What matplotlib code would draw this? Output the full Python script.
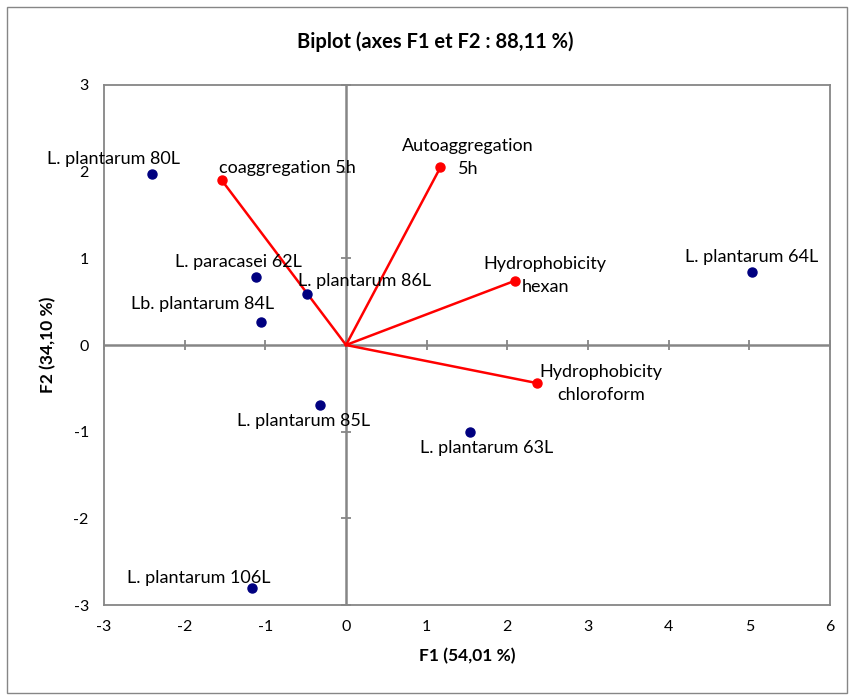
import matplotlib
matplotlib.use('Agg')
import matplotlib.pyplot as plt
from matplotlib.patches import Rectangle

# observations (strains)
obs_names = ['L. plantarum 80L', 'L. paracasei 62L', 'Lb. plantarum 84L', 'L. plantarum 86L',
             'L. plantarum 64L', 'L. plantarum 85L', 'L. plantarum 63L', 'L. plantarum 106L']
obs_f1 = [-2.40, -1.11, -1.05, -0.48, 5.03, -0.32, 1.54, -1.16]
obs_f2 = [1.97, 0.78, 0.27, 0.59, 0.84, -0.69, -1.00, -2.80]
# label offsets in points (label centre relative to marker)
obs_off = [(-28, 11), (-13, 11), (-42, 13), (41, 9), (0, 11), (-12, -12), (12, -12), (-39, 7)]

# variables
var_names = ['coaggregation 5h', 'Autoaggregation\n5h', 'Hydrophobicity\nhexan', 'Hydrophobicity\nchloroform']
var_f1 = [-1.54, 1.17, 2.09, 2.37]
var_f2 = [1.90, 2.05, 0.74, -0.44]
var_off = [(47, 9), (20, 7), (22, 4), (46, 0)]

xticks = [-3, -2, -1, 0, 1, 2, 3, 4, 5, 6]
yticks = [-3, -2, -1, 0, 1, 2, 3]

plt.rcParams['font.family'] = ['Lato', 'DejaVu Sans']
plt.rcParams['axes.unicode_minus'] = False
grey = '#868686'

fig = plt.figure(figsize=(8.5, 6.96), dpi=100)
ax = fig.add_axes([0.1224, 0.1307, 0.8541, 0.7472])
ax.set_xlim(-3, 6)
ax.set_ylim(-3, 3)
ax.set_xticks(xticks)
ax.set_yticks(yticks)
ax.tick_params(length=0, labelsize=11.5, pad=11)
for s in ax.spines.values():
    s.set_color(grey)
    s.set_linewidth(1.3)

# zero axes with crossing ticks
ax.axhline(0, color=grey, lw=1.8, zorder=1)
ax.axvline(0, color=grey, lw=1.8, zorder=1)
ax.plot(xticks, [0] * len(xticks), ls='none', marker='|', ms=7.5, mew=1.3, color=grey, zorder=1, clip_on=False)
ax.plot([0] * len(yticks), yticks, ls='none', marker='_', ms=7.5, mew=1.3, color=grey, zorder=1, clip_on=False)

# vectors
for x, y in zip(var_f1, var_f2):
    ax.plot([0, x], [0, y], color='red', lw=1.8, zorder=2)
ax.plot(var_f1, var_f2, ls='none', marker='o', ms=6.5, color='red', zorder=3)
for name, x, y, off in zip(var_names, var_f1, var_f2, var_off):
    ax.annotate(name, (x, y), xytext=off, textcoords='offset points', ha='center', va='center',
                fontsize=13, linespacing=1.55, zorder=4)

# observations
ax.plot(obs_f1, obs_f2, ls='none', marker='o', ms=6.5, color='#000080', zorder=3)
for name, x, y, off in zip(obs_names, obs_f1, obs_f2, obs_off):
    ax.annotate(name, (x, y), xytext=off, textcoords='offset points', ha='center', va='center',
                fontsize=13, zorder=4)

ax.set_xlabel('F1 (54,01 %)', fontsize=12.5, fontweight='bold', labelpad=10)
ax.set_ylabel('F2 (34,10 %)', fontsize=12.5, fontweight='bold', labelpad=12)
fig.text(0.512, 0.94, 'Biplot (axes F1 et F2 : 88,11 %)', ha='center', va='center',
         fontsize=14.5, fontweight='bold')

fig.patches.append(Rectangle((0.008, 0.005), 0.989, 0.985, transform=fig.transFigure,
                             fill=False, edgecolor=grey, lw=1.0))

fig.savefig('out.png', dpi=100)
